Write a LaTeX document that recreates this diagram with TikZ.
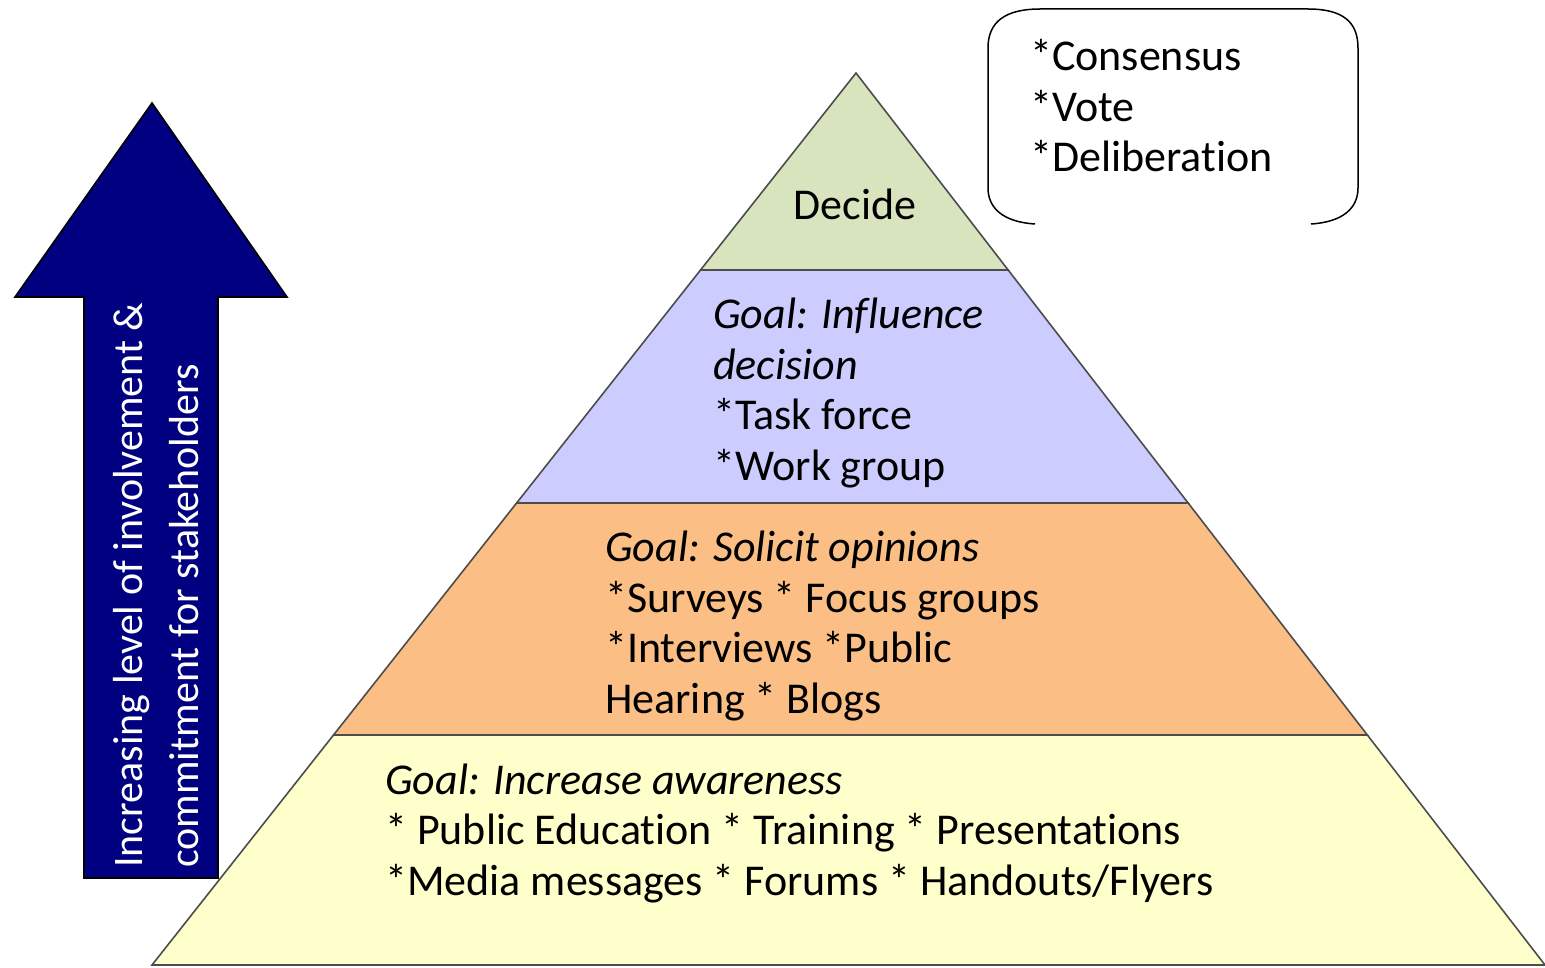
\documentclass[tikz,border=0pt]{standalone}
\usepackage{fontspec}
\setmainfont{Carlito}[Ligatures=NoCommon]
\usepackage{tikz}
\usetikzlibrary{calc}
\definecolor{DecideGreen}{HTML}{D7E4BD}
\definecolor{InfluenceBlue}{HTML}{CCCCFF}
\definecolor{SolicitOrange}{HTML}{FBBF85}
\definecolor{AwareYellow}{HTML}{FFFFCC}
\definecolor{ArrowNavy}{HTML}{000080}

\begin{document}
\begin{tikzpicture}[x=1pt, y=-1pt, every node/.style={align=left, inner sep=0pt, font=\fontsize{44}{50.5}\selectfont},
    layer/.style={draw=black!70, line width=1.6pt}]
      \useasboundingbox (0,0) rectangle (1545,968);
      % Corners
      \coordinate (apex) at (856,73);
      \coordinate (bl) at (152,965);
      \coordinate (br) at (1545,965);
      \coordinate (l1) at ($(apex)!0.2209!(bl)$);
      \coordinate (r1) at ($(apex)!0.2209!(br)$);
      \coordinate (l2) at ($(apex)!0.4821!(bl)$);
      \coordinate (r2) at ($(apex)!0.4821!(br)$);
      \coordinate (l3) at ($(apex)!0.7422!(bl)$);
      \coordinate (r3) at ($(apex)!0.7422!(br)$);
      % Layers
      \draw[layer, fill=AwareYellow] (l3) -- (r3) -- (br) -- (bl) -- cycle;
      \draw[layer, fill=SolicitOrange] (l2) -- (r2) -- (r3) -- (l3) -- cycle;
      \draw[layer, fill=InfluenceBlue] (l1) -- (r1) -- (r2) -- (l2) -- cycle;
      \draw[layer, fill=DecideGreen] (apex) -- (r1) -- (l1) -- cycle;
      % Arrow
      \draw[fill=ArrowNavy, line width=1.6pt] (152,103) -- (287,297) -- (218,297) -- (218,878) -- (84,878) -- (84,297) -- (15,297) -- cycle;
      % Box
      \draw[line width=1.5pt] (1035,224) .. controls (1003,222) and (988,208) .. (988,188) -- (988,48)
        .. controls (988,22) and (1005,9) .. (1040,9) -- (1308,9)
        .. controls (1343,9) and (1358,22) .. (1358,48) -- (1358,188)
        .. controls (1358,208) and (1343,222) .. (1311,224);
      % Nodes (base = last line)
      \node[anchor=base] (decide) at (855,220) {Decide};
      \node[anchor=base west] (influence) at (713,480) {\textit{Goal: Influence}\\\textit{decision}\\{}*Task force\\{}*Work group};
      \node[anchor=base west] (solicit) at (605,713) {\textit{Goal: Solicit opinions}\\{}*Surveys * Focus groups\\{}*Interviews *Public\\Hearing * Blogs};
      \node[anchor=base west] (awareness) at (385,895) {\textit{Goal: Increase awareness}\\{}* Public Education * Training * Presentations\\{}*Media messages * Forums * Handouts/Flyers};
      \node[anchor=base west] (methods) at (1030,172) {*Consensus\\{}*Vote\\{}*Deliberation};
      \node[anchor=base west, rotate=90, text=white, font=\fontsize{42}{56}\selectfont] (involvement) at (198,868) {Increasing level of involvement \&\\commitment for stakeholders};
    \end{tikzpicture}
\end{document}
